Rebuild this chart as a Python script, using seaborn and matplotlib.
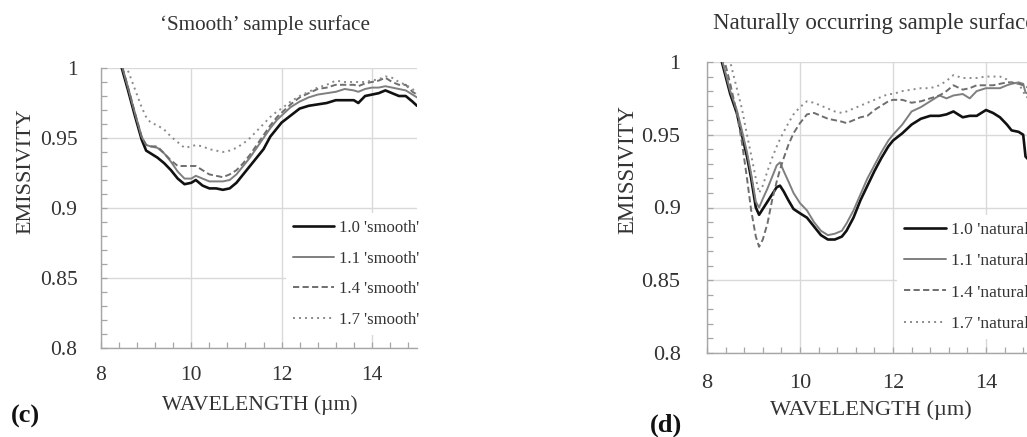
import matplotlib
matplotlib.use("Agg")
import matplotlib.pyplot as plt
from matplotlib.ticker import MultipleLocator
import seaborn as sns
import numpy as np

# ---------------- data ----------------
wl_smooth = [8.3, 8.46, 8.6, 8.75, 8.9, 9.0, 9.1, 9.25, 9.4, 9.55, 9.7, 9.85, 10.0, 10.1,
             10.25, 10.4, 10.55, 10.7, 10.85, 11.0, 11.15, 11.3, 11.45, 11.6, 11.75, 11.9,
             12.0, 12.2, 12.4, 12.6, 12.8, 13.0, 13.2, 13.4, 13.6, 13.7, 13.85, 14.0, 14.15,
             14.3, 14.45, 14.6, 14.75, 14.9, 15.0]
smooth_10 = [1.018, 1.0, 0.984, 0.966, 0.949, 0.941, 0.939, 0.936, 0.932, 0.927, 0.921, 0.917,
             0.918, 0.920, 0.916, 0.914, 0.914, 0.913, 0.914, 0.918, 0.924, 0.930, 0.936, 0.942,
             0.951, 0.957, 0.961, 0.966, 0.971, 0.973, 0.974, 0.975, 0.977, 0.977, 0.977, 0.975,
             0.980, 0.981, 0.982, 0.984, 0.982, 0.980, 0.980, 0.976, 0.973]
smooth_11 = [1.02, 1.002, 0.986, 0.968, 0.951, 0.945, 0.944, 0.943, 0.939, 0.933, 0.926, 0.921,
             0.921, 0.923, 0.921, 0.919, 0.919, 0.919, 0.920, 0.924, 0.930, 0.936, 0.943, 0.950,
             0.957, 0.963, 0.966, 0.972, 0.976, 0.979, 0.981, 0.982, 0.983, 0.985, 0.984, 0.983,
             0.985, 0.986, 0.986, 0.987, 0.986, 0.985, 0.984, 0.981, 0.979]
smooth_14 = [1.02, 1.002, 0.986, 0.968, 0.951, 0.945, 0.944, 0.944, 0.939, 0.934, 0.930, 0.930,
             0.930, 0.930, 0.927, 0.924, 0.923, 0.922, 0.924, 0.927, 0.932, 0.938, 0.945, 0.952,
             0.959, 0.965, 0.968, 0.974, 0.979, 0.982, 0.985, 0.986, 0.988, 0.988, 0.988, 0.987,
             0.989, 0.990, 0.991, 0.993, 0.990, 0.988, 0.988, 0.983, 0.981]
smooth_17 = [1.04, 1.018, 0.998, 0.985, 0.972, 0.965, 0.961, 0.959, 0.956, 0.951, 0.947, 0.943,
             0.944, 0.945, 0.944, 0.942, 0.941, 0.940, 0.941, 0.943, 0.946, 0.950, 0.955, 0.960,
             0.965, 0.969, 0.971, 0.976, 0.980, 0.983, 0.986, 0.988, 0.991, 0.990, 0.990, 0.990,
             0.990, 0.991, 0.992, 0.994, 0.993, 0.990, 0.988, 0.985, 0.982]

wl_natural = [8.2, 8.32, 8.5, 8.64, 8.75, 8.86, 8.95, 9.05, 9.12, 9.2, 9.3, 9.4, 9.5, 9.57,
              9.65, 9.75, 9.86, 10.0, 10.15, 10.3, 10.45, 10.6, 10.75, 10.9, 11.0, 11.15, 11.3,
              11.45, 11.6, 11.75, 11.9, 12.0, 12.2, 12.4, 12.6, 12.8, 13.0, 13.15, 13.3, 13.5,
              13.65, 13.8, 14.0, 14.15, 14.3, 14.45, 14.55, 14.7, 14.8, 14.85, 15.0]
natural_10 = [1.02, 1.0, 0.978, 0.965, 0.950, 0.935, 0.920, 0.900, 0.895, 0.899, 0.904, 0.909,
              0.914, 0.915, 0.911, 0.905, 0.899, 0.896, 0.893, 0.887, 0.881, 0.878, 0.878, 0.880,
              0.884, 0.893, 0.905, 0.915, 0.925, 0.934, 0.942, 0.946, 0.951, 0.957, 0.961, 0.963,
              0.963, 0.964, 0.966, 0.962, 0.963, 0.963, 0.967, 0.965, 0.962, 0.957, 0.953, 0.952,
              0.950, 0.935, 0.930]
natural_11 = [1.02, 1.002, 0.980, 0.967, 0.953, 0.938, 0.923, 0.904, 0.900, 0.906, 0.913, 0.921,
              0.929, 0.931, 0.925, 0.918, 0.910, 0.903, 0.898, 0.890, 0.884, 0.881, 0.882, 0.884,
              0.889, 0.898, 0.909, 0.920, 0.929, 0.938, 0.946, 0.950, 0.957, 0.966, 0.969, 0.973,
              0.977, 0.975, 0.977, 0.978, 0.975, 0.980, 0.982, 0.982, 0.982, 0.984, 0.985, 0.986,
              0.985, 0.979, 0.977]
natural_14 = [1.03, 1.008, 0.985, 0.965, 0.945, 0.920, 0.898, 0.880, 0.873, 0.878, 0.889, 0.905,
              0.918, 0.926, 0.934, 0.943, 0.951, 0.958, 0.964, 0.965, 0.963, 0.961, 0.960, 0.959,
              0.958, 0.960, 0.962, 0.963, 0.967, 0.970, 0.973, 0.974, 0.974, 0.972, 0.973, 0.975,
              0.977, 0.980, 0.984, 0.981, 0.982, 0.984, 0.984, 0.984, 0.985, 0.986, 0.986, 0.985,
              0.984, 0.983, 0.982]
natural_17 = [1.06, 1.03, 1.0, 0.982, 0.968, 0.950, 0.936, 0.920, 0.910, 0.915, 0.925, 0.934,
              0.942, 0.947, 0.952, 0.958, 0.964, 0.969, 0.973, 0.972, 0.970, 0.968, 0.966, 0.965,
              0.966, 0.968, 0.970, 0.972, 0.974, 0.976, 0.978, 0.978, 0.980, 0.981, 0.982, 0.982,
              0.984, 0.987, 0.991, 0.989, 0.989, 0.989, 0.990, 0.990, 0.990, 0.988, 0.986, 0.985,
              0.980, 0.976, 0.975]

smooth_labels = ["1.0 'smooth'", "1.1 'smooth'", "1.4 'smooth'", "1.7 'smooth'"]
natural_labels = ["1.0 'natural'", "1.1 'natural'", "1.4 'natural'", "1.7 'natural'"]
x_ticks = [8, 10, 12, 14]
y_ticks = [0.8, 0.85, 0.9, 0.95, 1.0]
y_ticklabels = ["0.8", "0.85", "0.9", "0.95", "1"]

# ---------------- style ----------------
sns.set_style("white")
plt.rcParams['font.family'] = ['Liberation Serif', 'DejaVu Serif']

styles = [
    dict(color='#111111', lw=1.9, ls='-'),
    dict(color='#7f7f7f', lw=1.4, ls='-'),
    dict(color='#6e6e6e', lw=1.4, ls=(0, (3.2, 1.7))),
    dict(color='#8a8a8a', lw=1.4, ls=(0, (1.0, 2.1))),
]

fig = plt.figure(figsize=(10.27, 4.37), dpi=100)
W, H = 1027, 437


def make_axes(left, right, top, bottom):
    return fig.add_axes([left / W, 1 - bottom / H, (right - left) / W, (bottom - top) / H])


def style_axes(ax, xpad, ypad, fs):
    ax.set_xlim(8, 15)
    ax.set_ylim(0.8, 1.0)
    ax.set_xticks(x_ticks)
    ax.set_yticks(y_ticks)
    ax.set_yticklabels(y_ticklabels)
    ax.xaxis.set_minor_locator(MultipleLocator(0.4))
    ax.yaxis.set_minor_locator(MultipleLocator(0.01))
    ax.grid(True, which='major', color='#d9d9d9', lw=1.0)
    ax.set_axisbelow(True)
    for s in ['top', 'right']:
        ax.spines[s].set_visible(False)
    for s in ['left', 'bottom']:
        ax.spines[s].set_color('#a6a6a6')
        ax.spines[s].set_linewidth(1.0)
    ax.tick_params(axis='both', which='both', direction='in', color='#a6a6a6',
                   length=4, width=0.9, labelcolor='#333333', labelsize=fs,
                   bottom=True, left=True, top=False, right=False)
    ax.tick_params(axis='x', which='major', pad=xpad)
    ax.tick_params(axis='y', which='major', pad=ypad)
    ax.set_xlabel('')
    ax.set_ylabel('')


def draw(ax, wl, series, labels):
    for vals, lab, st in zip(series, labels, styles):
        sns.lineplot(x=wl, y=vals, ax=ax, color=st['color'], linewidth=st['lw'],
                     linestyle=st['ls'], label=lab, sort=False, estimator=None)


# ---- panel (c)
ax1 = make_axes(101, 417, 68, 348)
draw(ax1, wl_smooth, [smooth_10, smooth_11, smooth_14, smooth_17], smooth_labels)
style_axes(ax1, xpad=13, ypad=17, fs=15.5)
ax1.text(0.519, 1.154, "\u2018Smooth\u2019 sample surface", transform=ax1.transAxes,
         ha='center', va='center', fontsize=15.2, color='#333333')
ax1.text(-0.237, 0.632, "EMISSIVITY", transform=ax1.transAxes, rotation=90,
         ha='center', va='center', fontsize=15.9, color='#333333')
ax1.text(0.502, -0.204, "WAVELENGTH (\u00b5m)", transform=ax1.transAxes,
         ha='center', va='center', fontsize=15.6, color='#333333')
leg1 = ax1.legend(loc='upper left', bbox_to_anchor=(0.585, 0.481), fontsize=12,
                  frameon=True, facecolor='white', edgecolor='none', framealpha=1,
                  handlelength=2.5, handletextpad=0.3, labelspacing=0.88,
                  borderpad=0.4, borderaxespad=0, fancybox=False)
for t in leg1.get_texts():
    t.set_color('#333333')
fig.text(25 / W, 1 - 416 / H, "(c)", fontsize=19, fontweight='bold',
         ha='center', va='center', color='#111111')

# ---- panel (d)
ax2 = make_axes(707, 1032.5, 62, 353)
draw(ax2, wl_natural, [natural_10, natural_11, natural_14, natural_17], natural_labels)
style_axes(ax2, xpad=15, ypad=19, fs=16)
ax2.text(0.018, 1.134, "Naturally occurring sample surface", transform=ax2.transAxes,
         ha='left', va='center', fontsize=16.5, color='#333333')
ax2.text(-0.243, 0.629, "EMISSIVITY", transform=ax2.transAxes, rotation=90,
         ha='center', va='center', fontsize=16.4, color='#333333')
ax2.text(0.504, -0.196, "WAVELENGTH (\u00b5m)", transform=ax2.transAxes,
         ha='center', va='center', fontsize=16.1, color='#333333')
leg2 = ax2.legend(loc='upper left', bbox_to_anchor=(0.584, 0.474), fontsize=12.6,
                  frameon=True, facecolor='white', edgecolor='none', framealpha=1,
                  handlelength=2.4, handletextpad=0.3, labelspacing=0.85,
                  borderpad=0.4, borderaxespad=0, fancybox=False)
for t in leg2.get_texts():
    t.set_color('#333333')
fig.text(666 / W, 1 - 425 / H, "(d)", fontsize=19, fontweight='bold',
         ha='center', va='center', color='#111111')

fig.savefig("out.png", dpi=100)
